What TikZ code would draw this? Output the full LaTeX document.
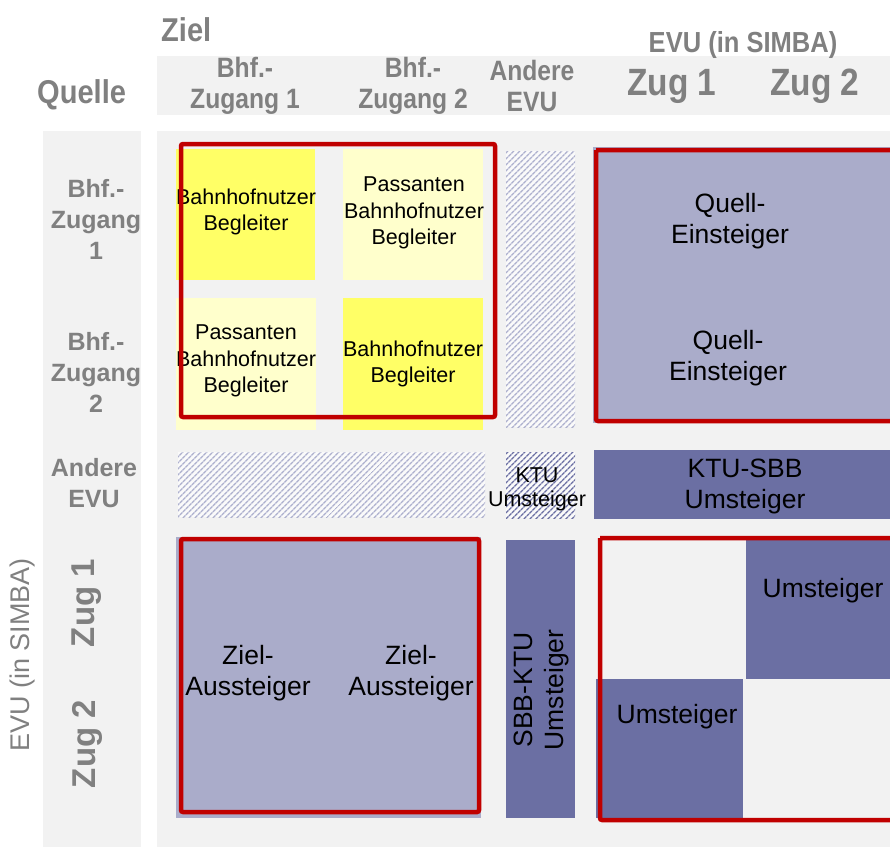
\documentclass[tikz,border=0pt]{standalone}
\usepackage{fontspec}
\setmainfont{Liberation Sans}
\newfontfamily\condfont[FakeStretch=0.88]{Liberation Sans}
\usetikzlibrary{patterns.meta}
\definecolor{panel}{HTML}{F2F2F2}
\definecolor{hdrgray}{HTML}{808080}
\definecolor{yel}{HTML}{FFFF66}
\definecolor{lyel}{HTML}{FFFFCC}
\definecolor{lav}{HTML}{AAACCA}
\definecolor{dlav}{HTML}{6B6FA3}
\definecolor{redb}{HTML}{C00000}
\definecolor{hatchl}{HTML}{ADB0CE}
\begin{document}
\begin{tikzpicture}[x=1pt,y=-1pt,
  hdrb/.style={text=hdrgray, align=center, inner sep=0pt, font=\condfont\bfseries\fontsize{28}{31}\selectfont},
  hdrbig/.style={text=hdrgray, inner sep=0pt, font=\condfont\bfseries\fontsize{38}{40}\selectfont},
  hdrreg/.style={text=hdrgray, inner sep=0pt, font=\fontsize{27}{32}\selectfont},
  rowlab/.style={text=hdrgray, align=center, inner sep=0pt, font=\bfseries\fontsize{25}{31}\selectfont},
  rowbig/.style={text=hdrgray, inner sep=0pt, font=\bfseries\fontsize{33}{38}\selectfont},
  smalltxt/.style={text=black, align=center, inner sep=0pt, font=\fontsize{21.5}{26.5}\selectfont},
  bigtxt/.style={text=black, align=center, inner sep=0pt, font=\fontsize{26.5}{31}\selectfont},
  redbox/.style={draw=redb, line width=4.5pt, rounded corners=2pt},
  lighthatch/.style={pattern={Lines[angle=45,distance=4pt,line width=1.4pt]}, pattern color=hatchl},
  darkhatch/.style={pattern={Lines[angle=45,distance=4pt,line width=1.6pt]}, pattern color=dlav}
]
\useasboundingbox (0,0) rectangle (890,847);
\fill[white] (0,0) rectangle (890,847);

% background panels
\fill[panel] (157,56) rectangle (890,115);
\fill[panel] (43,131) rectangle (141,847);
\fill[panel] (157,131) rectangle (890,847);

% header texts
\node[hdrb, font=\condfont\bfseries\fontsize{33}{36}\selectfont, anchor=west] (ziel) at (161,30) {Ziel};
\node[hdrb, font=\condfont\bfseries\fontsize{33}{36}\selectfont, anchor=west] (quelle) at (37,95) {Quelle};
\node[hdrb, font=\condfont\bfseries\fontsize{29}{32}\selectfont] (evutop) at (743,45) {EVU (in SIMBA)};
\node[hdrb] (hbz1) at (245,86) {Bhf.-\\Zugang 1};
\node[hdrb] (hbz2) at (413,86) {Bhf.-\\Zugang 2};
\node[hdrb] (hae) at (532,86) {Andere\\EVU};
\node[hdrbig] (hz1) at (672,86) {Zug 1};
\node[hdrbig] (hz2) at (815,86) {Zug 2};

% row texts
\node[rowlab] (rbz1) at (96,219) {Bhf.-\\Zugang\\1};
\node[rowlab] (rbz2) at (96,372) {Bhf.-\\Zugang\\2};
\node[rowlab] (rae) at (94,483) {Andere\\EVU};
\node[rowbig, rotate=90] (rz1) at (87,603) {Zug 1};
\node[rowbig, rotate=90] (rz2) at (87,744) {Zug 2};
\node[hdrreg, rotate=90] (revu) at (23,655) {EVU (in SIMBA)};

% Bhf cells
\fill[yel] (176,149) rectangle (315,280);
\fill[lyel] (343,149) rectangle (483,280);
\fill[lyel] (176,298) rectangle (316,430);
\fill[yel] (343,298) rectangle (483,430);
\node[smalltxt] (c11) at (246,212) {Bahnhofnutzer\\Begleiter};
\node[smalltxt] (c12) at (414,213) {Passanten\\Bahnhofnutzer\\Begleiter};
\node[smalltxt] (c21) at (246,361) {Passanten\\Bahnhofnutzer\\Begleiter};
\node[smalltxt] (c22) at (413,364) {Bahnhofnutzer\\Begleiter};

% hatched areas
\fill[white!60!panel] (506,151) rectangle (575,427);
\fill[lighthatch] (506,151) rectangle (575,427);
\fill[white!60!panel] (178,452) rectangle (485,517);
\fill[lighthatch] (178,452) rectangle (485,517);
\fill[white!60!panel] (506,452) rectangle (575,518);
\fill[darkhatch] (506,452) rectangle (575,518);
\node[smalltxt, font=\fontsize{21.5}{24}\selectfont] (ktu) at (537,489) {KTU\\Umsteiger};

% Quell-Einsteiger
\fill[lav] (593,147) rectangle (890,423);
\node[bigtxt] (q1) at (730,221) {Quell-\\Einsteiger};
\node[bigtxt] (q2) at (728,358) {Quell-\\Einsteiger};

% KTU-SBB
\fill[dlav] (594,450) rectangle (890,519);
\node[bigtxt] (ktusbb) at (745,486) {KTU-SBB\\Umsteiger};

% Ziel-Aussteiger
\fill[lav] (176,537) rectangle (481,818);
\node[bigtxt] (z1) at (248,673) {Ziel-\\Aussteiger};
\node[bigtxt] (z2) at (411,673) {Ziel-\\Aussteiger};

% SBB-KTU
\fill[dlav] (506,540) rectangle (575,818);
\node[bigtxt, rotate=90] (sbbktu) at (541,690) {SBB-KTU\\Umsteiger};

% Umsteiger
\fill[dlav] (746,540) rectangle (890,679);
\fill[dlav] (596,679) rectangle (743,818);
\node[bigtxt, anchor=north] (u1) at (823,578) {Umsteiger};
\node[bigtxt, anchor=north] (u2) at (677,704) {Umsteiger};

% red frames
\draw[redbox] (181,144) rectangle (495,417);
\draw[redbox] (596,150) -- (893,150) (596,150) -- (596,421) -- (893,421);
\draw[redbox] (181,539) rectangle (479,812);
\draw[redbox] (600,538) -- (893,538) (600,538) -- (600,820) -- (893,820);
\end{tikzpicture}
\end{document}
